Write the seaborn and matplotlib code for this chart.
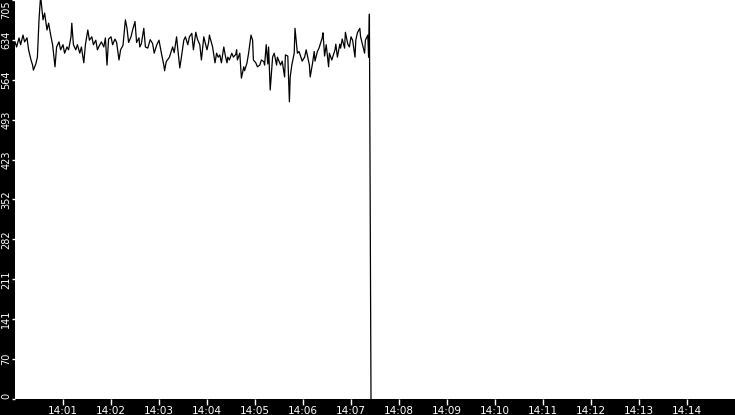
import pandas as pd
import matplotlib
matplotlib.use("Agg")
import matplotlib.pyplot as plt
import matplotlib.dates as mdates
import seaborn as sns

# seconds after 14:00:00 and the value
secs = [0, 2, 5, 7, 10, 12, 15, 17, 20, 22, 23, 26, 28, 30, 31, 32, 35, 37, 40, 42,
        45, 47, 50, 52, 55, 57, 60, 62, 65, 67, 70, 71, 73, 76, 78, 81, 83, 86, 88, 91,
        93, 96, 98, 101, 103, 106, 108, 111, 113, 115, 117, 120, 122, 125, 127, 130, 132, 135, 138, 140,
        142, 145, 147, 150, 152, 155, 156, 158, 161, 163, 166, 169, 172, 174, 177, 180, 183, 186, 187, 189,
        193, 197, 199, 202, 203, 206, 208, 211, 213, 216, 218, 221, 223, 226, 228, 231, 233, 236, 238, 240,
        242, 243, 247, 250, 252, 254, 256, 258, 261, 263, 265, 266, 268, 271, 273, 276, 277, 278, 281, 283,
        286, 287, 290, 292, 295, 297, 298, 301, 303, 306, 308, 311, 312, 314, 316, 317, 319, 322, 324, 327,
        328, 332, 334, 337, 338, 341, 343, 344, 346, 349, 350, 353, 355, 359, 362, 364, 368, 369, 372, 374,
        375, 378, 380, 384, 385, 387, 389, 392, 393, 396, 400, 401, 403, 406, 407, 409, 412, 413, 416, 418,
        420, 422, 425, 426, 428, 431, 432, 436, 437, 438, 441, 442, 443, 444, 445]
values = [631, 622, 638, 626, 643, 631, 638, 617, 599, 590, 581, 592, 604, 670, 693, 712, 670, 682, 652, 664,
          640, 626, 587, 622, 631, 617, 626, 611, 622, 617, 640, 664, 626, 617, 626, 611, 622, 594, 626, 652,
          634, 640, 626, 634, 617, 626, 631, 622, 638, 590, 636, 640, 626, 636, 630, 599, 617, 625, 670, 655,
          630, 640, 652, 667, 630, 638, 622, 628, 655, 622, 620, 635, 628, 611, 625, 634, 611, 590, 580, 596,
          604, 622, 612, 640, 625, 585, 604, 634, 640, 626, 640, 646, 617, 648, 636, 626, 599, 640, 628, 617,
          630, 643, 622, 594, 611, 604, 608, 594, 622, 606, 594, 604, 599, 611, 604, 609, 617, 599, 611, 567,
          587, 580, 594, 611, 643, 634, 599, 594, 587, 590, 599, 596, 590, 626, 592, 622, 546, 604, 611, 590,
          604, 590, 597, 569, 608, 606, 525, 569, 590, 611, 655, 611, 614, 597, 604, 617, 590, 569, 594, 614,
          597, 614, 620, 638, 647, 606, 626, 587, 611, 599, 617, 627, 604, 627, 620, 636, 620, 648, 627, 622,
          640, 634, 604, 634, 647, 655, 640, 617, 611, 634, 643, 604, 680, 337, 0]

y_ticks = [0, 70.5, 141, 211.5, 282, 352.5, 423, 493.5, 564, 634.5, 705]
y_labels = ["0", "70", "141", "211", "282", "352", "423", "493", "564", "634", "705"]

start = pd.Timestamp("2024-01-01 14:00:00")
df = pd.DataFrame({"time": start + pd.to_timedelta(secs, unit="s"), "value": values})

fig = plt.figure(figsize=(7.35, 4.15), dpi=100, facecolor="black")
ax = fig.add_axes([15 / 735, 16 / 415, 720 / 735, 399 / 415])
ax.set_facecolor("white")

sns.lineplot(data=df, x="time", y="value", color="black", linewidth=0.9, ax=ax)

ax.set_xlim(start, start + pd.Timedelta(minutes=15))
ax.set_ylim(0, 705)
ax.xaxis.set_major_locator(mdates.MinuteLocator(byminute=range(1, 15)))
ax.xaxis.set_major_formatter(mdates.DateFormatter("%H:%M"))
ax.set_yticks(y_ticks)
ax.set_yticklabels(y_labels, rotation=90, va="center")
ax.get_yticklabels()[-1].set_va("top")
ax.get_yticklabels()[0].set_va("bottom")

ax.tick_params(axis="both", colors="white", labelcolor="white", labelsize=7.5,
               width=1)
ax.tick_params(axis="x", length=4, pad=1)
ax.tick_params(axis="y", length=2.5, pad=0.3, labelsize=7)
ax.set_xlabel("")
ax.set_ylabel("")
for s in ax.spines.values():
    s.set_visible(False)

fig.savefig("out.png", dpi=100, facecolor="black")
